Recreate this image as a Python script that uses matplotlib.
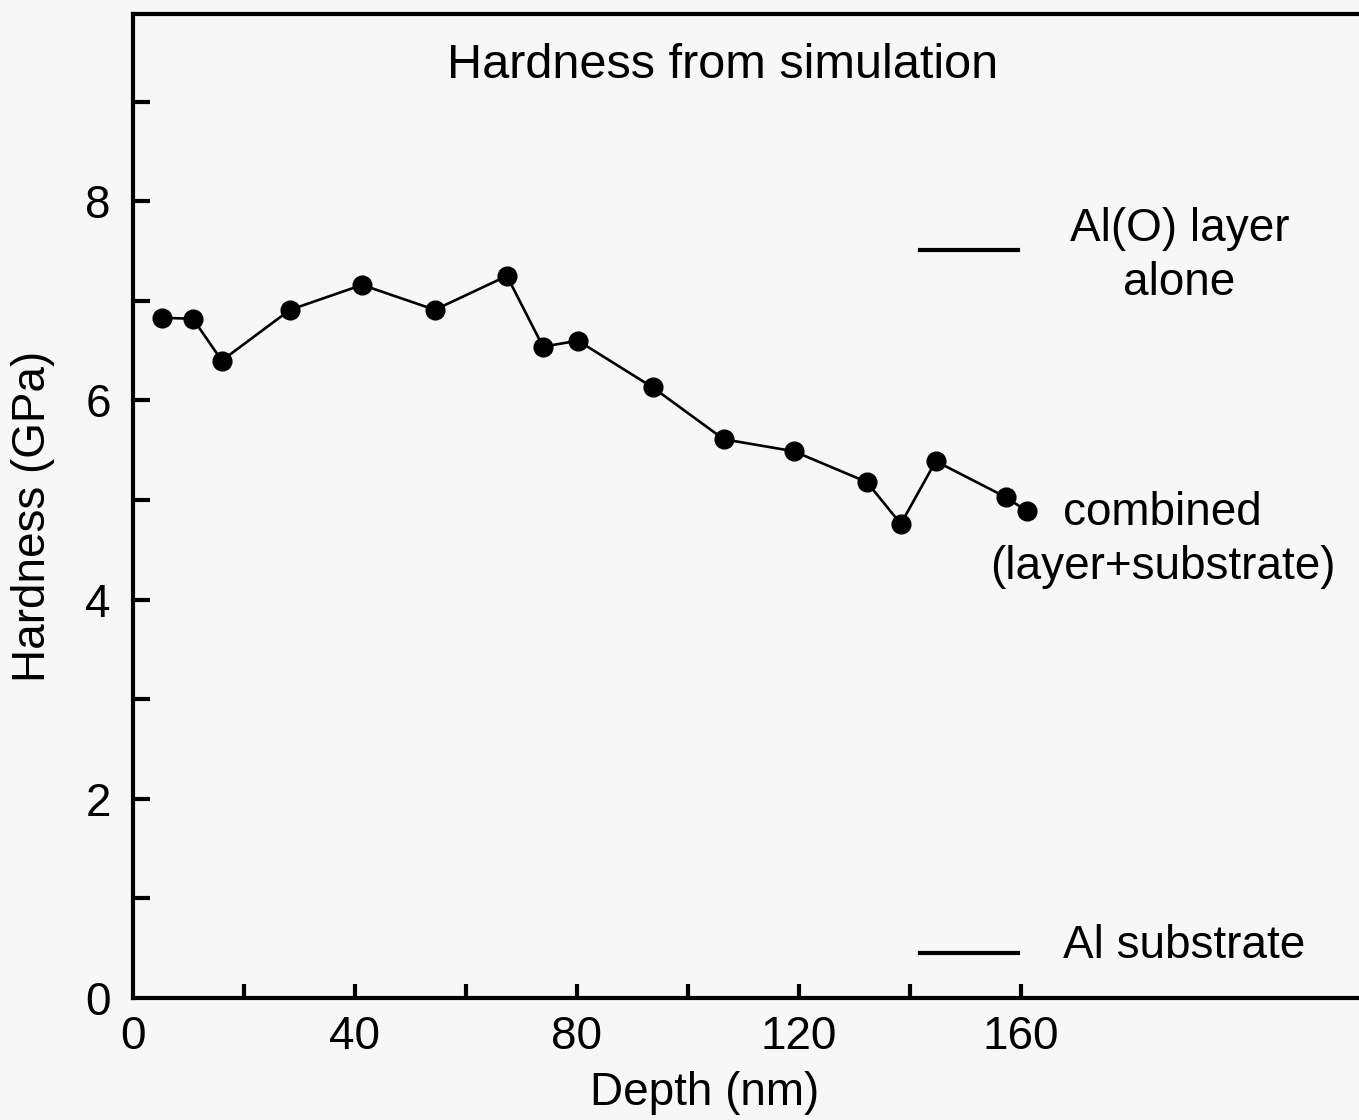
import matplotlib
matplotlib.use("Agg")
import matplotlib.pyplot as plt

plt.rcParams['font.family'] = ['Liberation Sans', 'DejaVu Sans']

depth = [5.2, 10.8, 16.0, 28.3, 41.3, 54.4, 67.4, 73.9, 80.2, 93.7,
         106.5, 119.1, 132.3, 138.4, 144.7, 157.3, 161.1]
hardness = [6.83, 6.82, 6.40, 6.91, 7.16, 6.91, 7.25, 6.54, 6.60, 6.13,
            5.61, 5.49, 5.18, 4.76, 5.39, 5.03, 4.89]

xticks = [0, 40, 80, 120, 160]
xtick_marks = [20, 40, 60, 80, 100, 120, 140, 160]
yticks = [0, 2, 4, 6, 8]
ytick_marks = [1, 2, 3, 4, 5, 6, 7, 8, 9]
title = "Hardness from simulation"
xlabel = "Depth (nm)"
ylabel = "Hardness (GPa)"
label_layer = "Al(O) layer\nalone"
label_combined = "combined\n(layer+substrate)"
label_sub = "Al substrate"
layer_level = 7.51
sub_level = 0.45

bg = '#f7f7f7'
fig = plt.figure(figsize=(13.59, 11.2), dpi=100, facecolor=bg)
ax = fig.add_axes([0.0979, 0.1089, 0.9021, 0.8786], facecolor=bg)

ax.plot(depth, hardness, color='black', lw=1.9, marker='o', ms=13.5, zorder=3)

ax.set_xlim(0, 221)
ax.set_ylim(0, 9.88)

for s in ['left', 'bottom', 'top']:
    ax.spines[s].set_linewidth(3)
ax.spines['right'].set_visible(False)

ax.xaxis.remove_overlapping_locs = False
ax.yaxis.remove_overlapping_locs = False
ax.set_xticks(xticks)
ax.set_xticks(xtick_marks, minor=True)
ax.set_yticks(yticks)
ax.set_yticks(ytick_marks, minor=True)
ax.tick_params(axis='both', which='both', direction='in', width=3, labelsize=33)
ax.tick_params(axis='x', which='major', length=0, pad=12)
ax.tick_params(axis='x', which='minor', length=10)
ax.tick_params(axis='y', which='major', length=0, pad=16)
ax.tick_params(axis='y', which='minor', length=12)
ax.tick_params(top=False, right=False)

ax.set_xlabel(xlabel, fontsize=33)
ax.set_ylabel(ylabel, fontsize=33)
ax.xaxis.set_label_coords(0.466, -0.074)
ax.yaxis.set_label_coords(-0.0636, 0.489)

ax.text(106.3, 9.36, title, fontsize=35, ha='center', va='center')

ax.plot([141.8, 159.5], [layer_level, layer_level], color='black', lw=3)
ax.plot([141.8, 159.5], [sub_level, sub_level], color='black', lw=3)
ax.text(188.6, 7.45, label_layer, fontsize=33, ha='center', va='center', linespacing=1.3)
ax.text(185.6, 4.60, label_combined, fontsize=33, ha='center', va='center', linespacing=1.3)
ax.text(189.4, 0.52, label_sub, fontsize=33, ha='center', va='center')

fig.savefig('out.png', dpi=100, facecolor=bg)
